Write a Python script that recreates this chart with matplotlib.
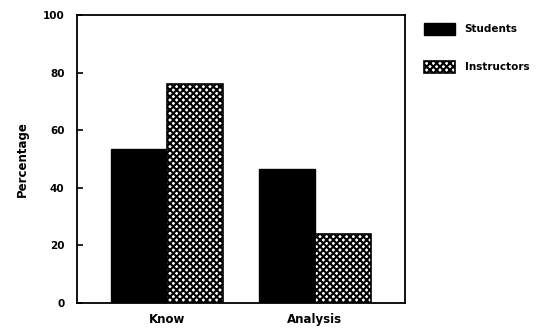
import numpy as np
import matplotlib
matplotlib.use('Agg')
import matplotlib.pyplot as plt

categories = ['Know', 'Analysis']
students = [53.5, 46.5]
instructors = [76.0, 24.0]
yticks = [0, 20, 40, 60, 80, 100]

plt.rcParams['font.family'] = ['DejaVu Sans']
plt.rcParams['font.weight'] = 'bold'
plt.rcParams['hatch.linewidth'] = 1.5

fig = plt.figure(figsize=(5.37, 3.33), dpi=100)
ax = fig.add_axes([0.1434, 0.0901, 0.6108, 0.8649])

x = np.arange(len(categories))
w = 0.38
ax.bar(x - w / 2, students, w, color='black', edgecolor='black', label='Students')
ax.bar(x + w / 2, instructors, w, color='white', edgecolor='black',
       hatch='xxxxx', linewidth=1.2, label='Instructors')

ax.set_xlim(-0.61, 1.61)
ax.set_ylim(0, 100)
ax.set_yticks(yticks)
ax.set_xticks(x)
ax.set_xticklabels(categories, fontsize=8.5, fontweight='bold')
ax.tick_params(axis='x', length=0, pad=7)
ax.tick_params(axis='y', direction='in', length=4, width=1.2, labelsize=7.5, pad=9)
for lab in ax.get_yticklabels():
    lab.set_fontweight('bold')
for s in ax.spines.values():
    s.set_linewidth(1.3)
ax.set_ylabel('Percentage', fontsize=8.5, fontweight='bold', labelpad=10)

fig.legend(loc='upper left', bbox_to_anchor=(0.772, 0.96), frameon=False,
           handlelength=3.0, handleheight=1.4, labelspacing=2.5, handletextpad=0.9,
           prop={'weight': 'bold', 'size': 7.5})

fig.savefig('out.png', dpi=100)
